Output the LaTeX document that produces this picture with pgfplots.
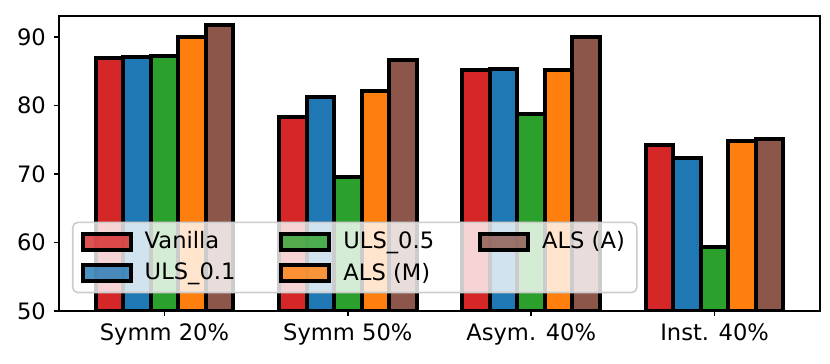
\documentclass[border=0pt]{standalone}
\usepackage{fontspec}
\setmainfont{DejaVu Sans}
\usepackage{pgfplots}
\pgfplotsset{compat=1.18}

\definecolor{cred}{HTML}{D62728}
\definecolor{cblue}{HTML}{1F77B4}
\definecolor{cgreen}{HTML}{2CA02C}
\definecolor{corange}{HTML}{FF7F0E}
\definecolor{cbrown}{HTML}{8C564B}

\begin{document}
\fontsize{11.3}{13.5}\selectfont
\begin{tikzpicture}
\begin{axis}[
  scale only axis,
  width=380.5pt, height=147.5pt,
  ybar, bar width=0.15,
  xmin=-0.575, xmax=3.575,
  ymin=50, ymax=93.1,
  xtick={0,1,2,3},
  xticklabels={Symm 20\%, Symm 50\%, Asym. 40\%, Inst. 40\%},
  ytick={50,60,70,80,90},
  tick align=outside, major tick length=2.6pt,
  xtick pos=bottom, ytick pos=left,
  /pgf/number format/assume math mode=true,
  ticklabel style={font=\fontsize{11.3}{13.5}\selectfont},
  axis line style={line width=0.8pt},
  every tick/.style={black, line width=0.8pt},
  legend columns=2, transpose legend,
  legend style={at={(0.017,0.06)}, anchor=south west,
    fill=white, fill opacity=0.8, text opacity=1, draw=black!20,
    rounded corners=2.5pt, line width=0.8pt,
    font=\fontsize{11.3}{13.5}\selectfont,
    inner xsep=4pt, inner ysep=2.5pt, row sep=1.5pt,
    /tikz/every odd column/.append style={column sep=4pt},
    /tikz/every even column/.append style={column sep=20pt}},
  legend image code/.code={\draw[#1, line width=2pt, sharp corners] (0pt,-4pt) rectangle (24pt,4pt);},
  legend cell align=left,
  every axis plot/.append style={draw=black, line width=2pt},
]
\addplot[fill=cred, bar shift=-0.3] coordinates {(0,87.0) (1,78.3) (2,85.2) (3,74.2)};
\addlegendentry{Vanilla}
\addplot[fill=cblue, bar shift=-0.15] coordinates {(0,87.1) (1,81.3) (2,85.4) (3,72.3)};
\addlegendentry{ULS\_0.1}
\addplot[fill=cgreen, bar shift=0] coordinates {(0,87.3) (1,69.6) (2,78.8) (3,59.3)};
\addlegendentry{ULS\_0.5}
\addplot[fill=corange, bar shift=0.15] coordinates {(0,90.0) (1,82.1) (2,85.2) (3,74.9)};
\addlegendentry{ALS (M)}
\addplot[fill=cbrown, bar shift=0.3] coordinates {(0,91.8) (1,86.7) (2,90.1) (3,75.1)};
\addlegendentry{ALS (A)}
\end{axis}
\pgfresetboundingbox
\path ([shift={(-29.5pt,-26.5pt)}]current axis.south west) rectangle ([shift={(5pt,8pt)}]current axis.north east);
\end{tikzpicture}
\end{document}
